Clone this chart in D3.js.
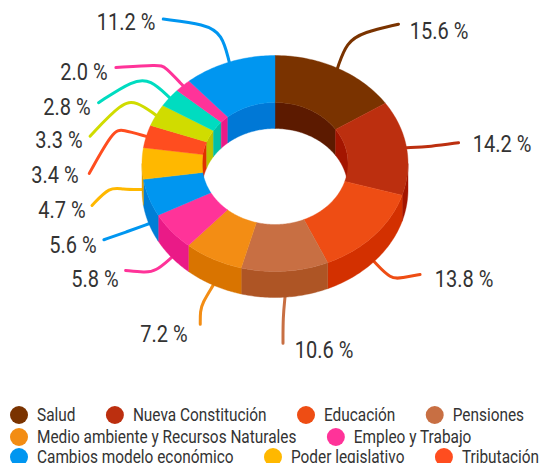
<!DOCTYPE html>
<html>
<head>
<meta charset="utf-8">
<script src="https://d3js.org/d3.v7.min.js"></script>
<style>
  html, body { margin: 0; padding: 0; background: #fff; overflow: hidden; }
  text { font-family: Roboto, sans-serif; fill: #333; }
</style>
</head>
<body>
<svg id="donut" width="541" height="463"></svg>
<script>
// slice values, clockwise from 12 o'clock
var values = [15.6, 14.2, 13.8, 10.6, 7.2, 5.8, 5.6, 4.7, 3.4, 3.3, 2.8, 2.0, 11.2];
var valueLabels = ["15.6 %", "14.2 %", "13.8 %", "10.6 %", "7.2 %", "5.8 %", "5.6 %", "4.7 %", "3.4 %", "3.3 %", "2.8 %", "2.0 %", "11.2 %"];

// the legend is cut by the bottom of the picture, only these can be read
var legendRows = [
  ["Salud", "Nueva Constitución", "Educación", "Pensiones"],
  ["Medio ambiente y Recursos Naturales", "Empleo y Trabajo"],
  ["Cambios modelo económico", "Poder legislativo", "Tributación"]
];

var topColors = ["#7a3300", "#bc2f0f", "#ee4d14", "#c86f43", "#f38d14", "#ff3399", "#0096f0", "#ffb800", "#ff4d1f", "#d0dc00", "#00dcc0", "#ff3399", "#0096f0"];
var wallColors = ["#5c1a00", "#a31500", "#d33000", "#ae5525", "#d97400", "#ea1a87", "#007ed6", "#e09e00", "#e03000", "#b8c400", "#00c0a5", "#ea1a87", "#0078d6"];

var svg = d3.select("svg#donut");

var cx = 275, cy = 163.5, depth = 26;
var outerRx = 133, outerRy = 108, innerRx = 73, innerRy = 61;

var pie = d3.pie().sort(null).value(function(d) { return d; })
  .startAngle(0).endAngle(2 * Math.PI);
var slices = pie(values);

var line = d3.line();

function rim(rx, ry, a, dy) {
  return [cx + rx * Math.sin(a), cy - ry * Math.cos(a) + (dy || 0)];
}

// points along an ellipse from angle a0 to a1
function arcPoints(rx, ry, a0, a1, dy) {
  return d3.range(0, 41).map(function(i) {
    return rim(rx, ry, a0 + (a1 - a0) * i / 40, dy);
  });
}

function band(rx0, ry0, dy0, rx1, ry1, dy1, a0, a1) {
  return line(arcPoints(rx0, ry0, a0, a1, dy0).concat(arcPoints(rx1, ry1, a1, a0, dy1))) + "Z";
}

var g = svg.append("g").attr("class", "everything");

//leader lines go under the ring
// bends are relative to the slice's rim point, last one is the line end
var leaderBends = [
  [[0, 0], [9, -26], [26, -36], [61, -44]],
  [[0, 0], [24, -1], [52, -5]],
  [[0, 0], [17, 18], [28, 16], [46, 13]],
  [[0, 0], [-2, 20], [-2, 46]],
  [[0, 0], [-11, 18], [-13, 26], [-13, 39]],
  [[0, 0], [-16, 14], [-27, 15], [-46, 13]],
  [[0, 0], [-22, 8], [-45, 16]],
  [[0, 0], [-20, 0], [-32, -3], [-50, 16]],
  [[0, 0], [-24, -7], [-33, -6], [-57, 37]],
  [[0, 0], [-20, -14], [-34, -13], [-66, 21]],
  [[0, 0], [-19, -18], [-36, -18], [-71, 5]],
  [[0, 0], [-18, -19], [-24, -21], [-67, -18]],
  [[0, 0], [-7, -28], [-24, -38], [-66, -43]]
];
var labelPos = [
  [439, 39], [502, 152], [464, 287], [324, 358], [164, 342], [95, 287], [73, 253],
  [62, 218], [55, 183], [59, 148], [67, 115], [84, 80], [126, 30]
];

var curve = d3.line().curve(d3.curveBasis);

g.append("g").attr("class", "leaders")
  .selectAll("path")
  .data(slices)
  .enter().append("path")
  .attr("d", function(d, i) {
    var mid = (d.startAngle + d.endAngle) / 2;
    var lower = Math.cos(mid) < 0;
    var start = rim(outerRx, outerRy, mid, lower ? depth : 0);
    return curve(leaderBends[i].map(function(b) { return [start[0] + b[0], start[1] + b[1]]; }));
  })
  .attr("fill", "none")
  .attr("stroke-width", 3)
  .attr("stroke-linecap", "round")
  .attr("stroke", function(d, i) { return topColors[i]; });

//inner wall, only the back half can be seen
function clampBack(d) {
  var a0 = d.startAngle, a1 = d.endAngle, out = [];
  if (a0 < Math.PI / 2) out.push([a0, Math.min(a1, Math.PI / 2)]);
  if (a1 > 3 * Math.PI / 2) out.push([Math.max(a0, 3 * Math.PI / 2), a1]);
  return out;
}
//outer wall, front half
function clampFront(d) {
  var a0 = Math.max(d.startAngle, Math.PI / 2), a1 = Math.min(d.endAngle, 3 * Math.PI / 2);
  return a0 < a1 ? [[a0, a1]] : [];
}

slices.forEach(function(d, i) {
  clampBack(d).forEach(function(r) {
    g.append("path")
      .attr("d", band(innerRx, innerRy, 0, innerRx, innerRy, depth, r[0], r[1]))
      .attr("fill", wallColors[i])
      .attr("stroke", wallColors[i]).attr("stroke-width", 0.4);
  });
  clampFront(d).forEach(function(r) {
    g.append("path")
      .attr("d", band(outerRx, outerRy, 0, outerRx, outerRy, depth, r[0], r[1]))
      .attr("fill", wallColors[i])
      .attr("stroke", wallColors[i]).attr("stroke-width", 0.4);
  });
});

//top face
g.append("g").attr("class", "top")
  .selectAll("path")
  .data(slices)
  .enter().append("path")
  .attr("d", function(d) {
    return band(outerRx, outerRy, 0, innerRx, innerRy, 0, d.startAngle, d.endAngle);
  })
  .attr("fill", function(d, i) { return topColors[i]; })
  .attr("stroke", function(d, i) { return topColors[i]; })
  .attr("stroke-width", 0.4);

//value labels
g.append("g").attr("class", "labels")
  .selectAll("text")
  .data(valueLabels)
  .enter().append("text")
  .attr("text-anchor", "middle")
  .attr("font-size", 23)
  .attr("transform", function(d, i) {
    return "translate(" + labelPos[i][0] + "," + labelPos[i][1] + ") scale(0.87,1)";
  })
  .text(function(d) { return d; });

//legend, each row flows from the left
var legendY = [415, 437, 457];
var legend = svg.append("g").attr("class", "legend");
var colorIndex = 0;
var textScale = 0.875;
legendRows.forEach(function(row, r) {
  var x = 19;
  row.forEach(function(name) {
    legend.append("circle")
      .attr("cx", x).attr("cy", legendY[r]).attr("r", 9)
      .attr("fill", topColors[colorIndex]);
    var t = legend.append("text")
      .attr("font-size", 17.6)
      .attr("transform", "translate(" + (x + 18) + "," + (legendY[r] + 6) + ") scale(" + textScale + ",1)")
      .text(name);
    x += 18 + t.node().getComputedTextLength() * textScale + 39.5;
    colorIndex++;
  });
});
</script>
</body>
</html>
